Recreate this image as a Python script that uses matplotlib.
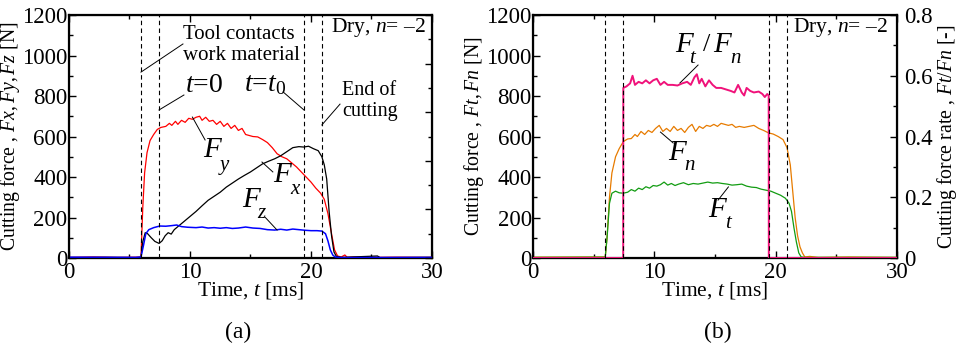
import numpy as np
import matplotlib
matplotlib.use('Agg')
import matplotlib.pyplot as plt
from matplotlib.ticker import MultipleLocator

plt.rcParams['font.family'] = ['Liberation Serif', 'DejaVu Serif']
plt.rcParams['mathtext.fontset'] = 'custom'
plt.rcParams['mathtext.rm'] = 'Liberation Serif'
plt.rcParams['mathtext.it'] = 'Liberation Serif:italic'

# ---- panel (a): Fx, Fy, Fz [N] vs time [ms]
t_fy = [0, 2, 4, 5.5, 5.95, 6.1, 6.25, 6.45, 6.7, 7.0, 7.3, 7.6, 8.0, 8.3, 8.5, 8.8, 9.0,
        9.3, 9.6, 9.9, 10.2, 10.5, 10.8, 11.0, 11.3, 11.6, 11.9, 12.2, 12.5, 12.8, 13.1,
        13.4, 13.7, 14.0, 14.3, 14.6, 14.9, 15.2, 15.6, 16.0, 16.4, 16.8, 17.2, 17.6, 18.0,
        18.4, 18.8, 19.2, 19.6, 20.0, 20.4, 20.8, 21.1, 21.4, 21.7, 21.95, 22.2, 22.5, 22.8,
        23.0, 23.5, 25, 27, 30]
fy = [3, 5, 3, 4, 5, 250, 420, 520, 580, 610, 635, 645, 650, 665, 655, 675, 660,
      680, 670, 690, 685, 695, 700, 680, 695, 675, 680, 660, 675, 650, 665,
      640, 655, 630, 640, 610, 605, 600, 598, 585, 570, 545, 515, 500, 490,
      470, 450, 425, 400, 375, 345, 320, 290, 220, 120, 40, 10, 5, 15,
      3, 5, 3, 4, 3]

t_fx = [0, 3, 5.5, 5.95, 6.1, 6.3, 6.5, 6.8, 7.1, 7.45, 7.7, 7.95, 8.2, 8.45, 8.7, 9.0,
        9.5, 10.0, 10.5, 11.0, 11.5, 12.0, 12.5, 13.0, 13.5, 14.0, 14.5, 15.0, 15.5, 16.0,
        16.5, 17.0, 17.5, 18.0, 18.5, 19.0, 19.4, 19.8, 20.2, 20.6, 20.9, 21.1, 21.3, 21.5,
        21.7, 21.9, 22.1, 22.5, 25.5, 25.7, 30]
fx = [2, 3, 2, 3, 80, 125, 120, 100, 82, 72, 85, 110, 125, 118, 140, 155,
      180, 205, 230, 258, 285, 305, 325, 350, 370, 390, 408, 425, 445, 465,
      478, 490, 505, 525, 545, 550, 548, 552, 540, 530, 500, 460, 390, 230,
      110, 30, 8, 3, 10, 2, 3]

t_fz = [0, 5.5, 5.95, 6.15, 6.35, 6.6, 7.0, 7.5, 8.0, 8.5, 8.9, 9.3, 9.8, 10.5, 11.0,
        11.5, 12.0, 12.5, 13.0, 13.5, 14.0, 14.6, 15.2, 15.8, 16.4, 17.0, 17.5, 18.0, 18.5,
        19.0, 19.5, 20.0, 20.5, 20.9, 21.2, 21.4, 21.6, 21.8, 22.0, 22.5, 30]
fz = [4, 3, 5, 60, 120, 140, 150, 158, 157, 160, 163, 155, 152, 150, 153,
      148, 150, 147, 150, 146, 148, 153, 148, 146, 140, 138, 142, 138, 143,
      140, 137, 135, 135, 133, 120, 85, 40, 15, 5, 2, 3]

# ---- panel (b): Ft, Fn [N] and Ft/Fn [-]
t_fn = [0, 5.5, 5.95, 6.1, 6.3, 6.5, 6.8, 7.1, 7.44, 7.8, 8.1, 8.4, 8.6, 8.9, 9.2, 9.5,
        9.8, 10.1, 10.4, 10.7, 11.0, 11.3, 11.6, 11.9, 12.2, 12.5, 12.8, 13.1, 13.4, 13.7,
        14.0, 14.3, 14.6, 14.9, 15.2, 15.5, 15.8, 16.1, 16.4, 16.7, 17.0, 17.4, 17.8, 18.2,
        18.6, 19.0, 19.4, 19.8, 20.2, 20.6, 20.93, 21.2, 21.4, 21.6, 21.8, 22.0, 22.2, 22.4,
        22.8, 23.5, 26, 30]
fn = [4, 5, 5, 100, 300, 420, 500, 540, 575, 588, 590, 610, 600, 625, 610, 630,
      620, 640, 655, 625, 640, 625, 650, 630, 640, 620, 645, 660, 625, 650,
      640, 655, 650, 660, 650, 665, 660, 655, 660, 645, 650, 645, 650, 655,
      640, 630, 618, 612, 600, 585, 545, 460, 330, 200, 110, 55, 25, 5,
      8, 3, 5, 3]

t_ft = [0, 5.5, 5.95, 6.1, 6.3, 6.5, 6.8, 7.1, 7.44, 7.8, 8.1, 8.4, 8.7, 9.0, 9.3, 9.6,
        9.9, 10.2, 10.5, 10.8, 11.1, 11.4, 11.7, 12.0, 12.4, 12.8, 13.2, 13.6, 14.0, 14.4,
        14.8, 15.2, 15.6, 16.0, 16.4, 16.8, 17.2, 17.6, 18.0, 18.4, 18.8, 19.2, 19.6, 20.0,
        20.4, 20.8, 21.1, 21.3, 21.5, 21.7, 21.9, 22.1, 22.5, 30]
ft = [3, 4, 4, 100, 270, 320, 330, 322, 320, 325, 338, 330, 345, 338, 352, 345,
      358, 355, 362, 375, 360, 368, 358, 365, 372, 362, 368, 365, 370, 375,
      370, 372, 368, 365, 360, 362, 365, 355, 350, 348, 340, 335, 330, 320,
      310, 295, 270, 230, 150, 80, 25, 5, 3, 3]

t_rate = [0, 7.43, 7.44, 7.7, 8.0, 8.2, 8.4, 8.7, 9.0, 9.3, 9.6, 9.9, 10.2, 10.5, 10.8,
          11.1, 11.5, 11.9, 12.3, 12.7, 13.0, 13.3, 13.5, 13.7, 13.9, 14.2, 14.5, 14.8,
          15.1, 15.5, 15.9, 16.3, 16.6, 16.9, 17.2, 17.4, 17.6, 17.9, 18.2, 18.6, 18.9,
          19.1, 19.3, 19.42, 19.43, 30]
rate = [0, 0, 0.56, 0.565, 0.575, 0.6, 0.57, 0.58, 0.575, 0.585, 0.575, 0.585, 0.59, 0.57, 0.58,
        0.57, 0.57, 0.568, 0.575, 0.58, 0.57, 0.595, 0.605, 0.575, 0.59, 0.565, 0.585, 0.57,
        0.56, 0.56, 0.555, 0.55, 0.545, 0.57, 0.545, 0.535, 0.56, 0.55, 0.545, 0.548, 0.54,
        0.53, 0.54, 0.535, 0, 0]

events = [5.97, 7.44, 19.43, 20.93]  # contact, t=0, t=t0, end of cutting

FS = 16.5   # tick labels
FL = 15.5   # x label
FY = 14.2   # y labels

fig = plt.figure(figsize=(9.58, 3.46), dpi=100)
ax_a = fig.add_axes([0.0720, 0.2543, 0.3789, 0.7023])
ax_b = fig.add_axes([0.5564, 0.2543, 0.3800, 0.7023])


def ticks(ax, labelsize=FS):
    ax.tick_params(which='both', direction='in', labelsize=labelsize, width=1)
    ax.tick_params(which='major', length=5)
    ax.tick_params(which='minor', length=3)


def style(ax):
    ax.set_xlim(0, 30)
    ax.set_ylim(0, 1200)
    ax.xaxis.set_major_locator(MultipleLocator(10))
    ax.xaxis.set_minor_locator(MultipleLocator(5))
    ax.yaxis.set_major_locator(MultipleLocator(200))
    ax.yaxis.set_minor_locator(MultipleLocator(100))
    ticks(ax)
    ax.tick_params(which='both', top=True, right=False)
    ax.tick_params(axis='y', pad=1)
    ax.tick_params(axis='x', pad=3)
    for s in ax.spines.values():
        s.set_linewidth(1.6)
    ax.set_xlabel('Time, $t$ [ms]', fontsize=FL, labelpad=-2)


def vlines(ax):
    for e in events:
        ax.axvline(e, color='k', lw=0.8, ls=(0, (4, 3)), zorder=6)


def leader(ax, p0, p1):
    ax.plot([p0[0], p1[0]], [p0[1], p1[1]], color='k', lw=0.7, zorder=5)


def fsub(ax, x, y, sub, xs, ys, big=21, small=15):
    ax.text(x, y, 'F', fontsize=big, style='italic', ha='left', va='center')
    ax.text(xs, ys, sub, fontsize=small, style='italic', ha='left', va='center')


# ---- (a)
style(ax_a)
vlines(ax_a)
ax_a.plot(t_fy, fy, color='#ff0000', lw=0.9, zorder=3)
ax_a.plot(t_fx, fx, color='k', lw=0.9, zorder=3)
ax_a.plot(t_fz, fz, color='#0000ff', lw=1.1, zorder=4)
ax_a.set_ylabel('Cutting force , $Fx,Fy,Fz$ [N]', fontsize=FY, labelpad=0)
ax_a2 = ax_a.twinx()
ax_a2.set_ylim(0, 1)
ax_a2.yaxis.set_major_locator(MultipleLocator(0.2))
ax_a2.yaxis.set_minor_locator(MultipleLocator(0.1))
ticks(ax_a2)
ax_a2.tick_params(labelright=False)

ax_a.text(9.4, 1052, 'Tool contacts\nwork material', fontsize=15, ha='left', va='center',
          linespacing=1.1)
leader(ax_a, (5.95, 918), (9.42, 1057))
ax_a.text(9.6, 854, '$t$=$0$', fontsize=20, ha='left', va='center')
leader(ax_a, (7.44, 731), (9.5, 805))
ax_a.text(14.5, 854, '$t$=$t_0$', fontsize=20, ha='left', va='center')
leader(ax_a, (17.7, 820), (19.42, 731))
ax_a.text(22.6, 775, 'End of\ncutting', fontsize=14.5, ha='left', va='center', linespacing=1.15)
leader(ax_a, (20.9, 657), (22.4, 760))
ax_a.text(29.5, 1136, 'Dry, $n$= \u20132', fontsize=15.5, ha='right', va='center')
fsub(ax_a, 11.1, 533, 'y', 12.5, 459)
leader(ax_a, (10.2, 696), (11.25, 583))
fsub(ax_a, 16.9, 410, 'x', 18.3, 336)
leader(ax_a, (15.95, 474), (16.85, 425))
fsub(ax_a, 14.3, 286, 'z', 15.6, 222)
leader(ax_a, (16.2, 202), (17.2, 138))

# ---- (b)
style(ax_b)
ax_b.plot(t_fn, fn, color='#e77b00', lw=0.9, zorder=3)
ax_b.plot(t_ft, ft, color='#129c12', lw=0.9, zorder=3)
ax_b.set_ylabel('Cutting force , $Ft,Fn$ [N]', fontsize=FY, labelpad=0)
ax_r = ax_b.twinx()
ax_r.set_ylim(0, 0.8)
ax_r.set_xlim(0, 30)
ax_r.plot(t_rate, rate, color='#f0127a', lw=1.4, zorder=4)
vlines(ax_r)
ax_r.yaxis.set_major_locator(MultipleLocator(0.2))
ax_r.yaxis.set_minor_locator(MultipleLocator(0.1))
ticks(ax_r)
ax_r.tick_params(axis='y', pad=5)
ax_r.set_yticks([0, 0.2, 0.4, 0.6, 0.8])
ax_r.set_yticklabels(['0', '0.2', '0.4', '0.6', '0.8'])
ax_r.set_ylabel('Cutting force rate , $Ft/Fn$ [-]', fontsize=FY, labelpad=2)

ax_b.text(11.7, 1052, 'F', fontsize=21, style='italic', ha='left', va='center')
ax_b.text(12.85, 985, 't', fontsize=15, style='italic', ha='left', va='center')
ax_b.text(14.0, 1052, '/', fontsize=19, ha='left', va='center')
ax_b.text(14.85, 1052, 'F', fontsize=21, style='italic', ha='left', va='center')
ax_b.text(16.25, 985, 'n', fontsize=15, style='italic', ha='left', va='center')
leader(ax_b, (12.1, 864), (13.6, 953))
fsub(ax_b, 11.1, 519, 'n', 12.5, 455)
leader(ax_b, (10.5, 622), (11.55, 568))
fsub(ax_b, 14.4, 237, 't', 15.8, 172)
leader(ax_b, (16.1, 351), (15.25, 286))
ax_b.text(29.2, 1136, 'Dry, $n$= \u20132', fontsize=15.5, ha='right', va='center')

fig.text(238 / 958, 1 - 332 / 346, '(a)', fontsize=17, ha='center', va='center')
fig.text(718 / 958, 1 - 332 / 346, '(b)', fontsize=17, ha='center', va='center')

fig.savefig('out.png', dpi=100)
